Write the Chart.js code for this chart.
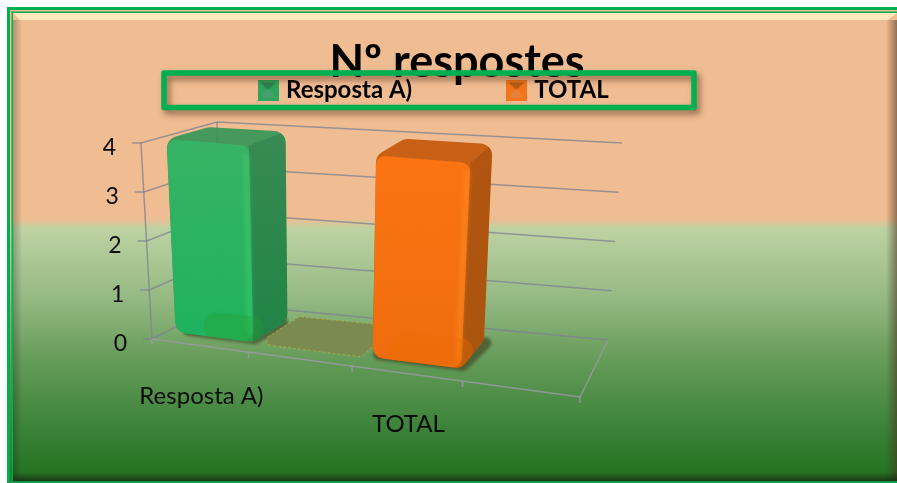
<!DOCTYPE html>
<html><head><meta charset="utf-8">
<style>html,body{margin:0;padding:0;background:#fff}canvas{display:block;filter:blur(0.45px)}</style>
<script src="https://cdn.jsdelivr.net/npm/chart.js@4/dist/chart.umd.min.js"></script>
</head><body><canvas id="c" width="897" height="483"></canvas>
<script>
const categories = ['Resposta A)', '', 'TOTAL', ''];
const seriesRespostaA = [4, 0, null, null];
const seriesTotal = [null, null, 4, null];
const yTicks = [0, 1, 2, 3, 4];
const chartTitle = 'Nº respostes';

const FONT = 'Lato, Carlito, Calibri, sans-serif';
const floorQuad = {fl:[152,339],fr:[580,397],br:[608,340],bl:[222,304]};
const topQuad   = {fl:[141,143],fr:[598,182],br:[622,143],bl:[217,122]};
const mix=(a,b,t)=>[a[0]+(b[0]-a[0])*t,a[1]+(b[1]-a[1])*t];
const warp=u=>u*(.87+.13*u);
function onQuad(q,u,d){const w=warp(u);return mix(mix(q.fl,q.fr,w),mix(q.bl,q.br,w),d);}
function P(u,d,v){return mix(onQuad(floorQuad,u,d),onQuad(topQuad,u,d),v);}

function line(ctx,a,b){ctx.beginPath();ctx.moveTo(a[0],a[1]);ctx.lineTo(b[0],b[1]);ctx.stroke();}
function roundPoly(ctx,pts,r){
  ctx.beginPath();
  const n=pts.length,s=mix(pts[n-1],pts[0],.5);
  ctx.moveTo(s[0],s[1]);
  for(let i=0;i<n;i++){const p=pts[i],q=pts[(i+1)%n];ctx.arcTo(p[0],p[1],q[0],q[1],r);}
  ctx.closePath();
}
const D0=0.22,D1=0.78;
const palette={
  0:{front:['#36B565','#1EB45E'],edge:'rgba(70,205,120,.55)',side:['#378A52','#1E8246'],top:'#3A9657',floor:'rgba(40,160,40,.3)'},
  1:{front:['#FF7512','#F26E0E'],edge:'rgba(255,145,40,.55)',side:['#B0540F','#A8540E'],top:'#C55B0E',floor:'rgba(238,108,4,.35)'}
};
function swatch(c1,c2,c3){
  const s=document.createElement('canvas');s.width=s.height=21;const x=s.getContext('2d');
  x.fillStyle=c1;x.fillRect(0,0,21,21);
  x.fillStyle=c2;x.beginPath();x.moveTo(3,3);x.lineTo(18,3);x.lineTo(10.5,11);x.closePath();x.fill();
  x.fillStyle=c3;x.beginPath();x.moveTo(3,18);x.lineTo(18,18);x.lineTo(10.5,9);x.closePath();x.fill();
  return s;
}
const swatches=[swatch('#2FA45C','#2E7F50','#4A9F70'),swatch('#F3741B','#B85C12','#E2843A')];

const scene={
  id:'scene',
  beforeDraw(chart){
    const ctx=chart.ctx,W=chart.width,H=chart.height;
    ctx.save();
    ctx.fillStyle='#fff';ctx.fillRect(0,0,W,H);
    const g=ctx.createLinearGradient(0,7,0,483);
    const s=y=>(y-7)/476;
    g.addColorStop(0,'#F0BC92');g.addColorStop(s(218),'#F0BC92');g.addColorStop(s(229),'#BDD2A2');
    g.addColorStop(s(300),'#94B882');g.addColorStop(s(360),'#659B59');g.addColorStop(s(430),'#3A8238');g.addColorStop(s(470),'#277424');g.addColorStop(1,'#277424');
    ctx.fillStyle=g;ctx.fillRect(7,7,W-7,H-7);
    ctx.fillStyle='#FFE7BE';ctx.beginPath();ctx.moveTo(13,13);ctx.lineTo(W,13);ctx.lineTo(888,20);ctx.lineTo(20,20);ctx.closePath();ctx.fill();
    let b=ctx.createLinearGradient(886,0,W,0);b.addColorStop(0,'rgba(70,50,30,0)');b.addColorStop(1,'rgba(70,50,30,.55)');
    ctx.fillStyle=b;ctx.fillRect(886,20,W-886,H-20);
    b=ctx.createLinearGradient(0,472,0,481);b.addColorStop(0,'rgba(20,30,15,0)');b.addColorStop(1,'rgba(20,30,15,.7)');
    ctx.fillStyle=b;ctx.fillRect(13,472,W-13,9);
    b=ctx.createLinearGradient(13,0,22,0);b.addColorStop(0,'rgba(20,30,15,.28)');b.addColorStop(1,'rgba(20,30,15,0)');
    ctx.fillStyle=b;ctx.fillRect(13,20,9,461);
    ctx.fillStyle='#00B050';
    ctx.fillRect(7,7,W-7,3);ctx.fillRect(7,7,3,H-7);
    ctx.fillRect(11.5,11.5,W-11.5,1.5);ctx.fillRect(11.5,11.5,1.5,H-11.5);
    ctx.fillStyle='#12994B';ctx.fillRect(7,481,W-7,2);
    ctx.restore();
  },
  afterLayout(chart){
    const area=chart.chartArea,x=chart.scales.x,y=chart.scales.y;
    const tu=p=>(p-area.left)/(area.right-area.left), tv=p=>(area.bottom-p)/(area.bottom-area.top);
    x.getLabelItems().forEach((it,i)=>{
      const p=P(tu(x.getPixelForTick(i)),0,0);
      it.options.translation=[p[0]+2,p[1]+36];
    });
    y.getLabelItems().forEach((it,i)=>{
      const p=P(0,0,tv(y.getPixelForTick(i)));
      it.options.translation=[p[0]-25,p[1]+5];
    });
    x.top=0;x.bottom=chart.height;y.left=0;y.right=chart.width;
    const t=chart.titleBlock;
    t.left=0;t.right=914;t.top=35;t.bottom=t.top+t.height;
    const l=chart.legend,pad=l.options.labels.padding;
    l.left=262-pad;l.right=897;l.top=90-12-pad;l.bottom=400;
  },
  beforeDatasetsDraw(chart){
    const ctx=chart.ctx,area=chart.chartArea,x=chart.scales.x,y=chart.scales.y;
    const tu=p=>(p-area.left)/(area.right-area.left), tv=p=>(area.bottom-p)/(area.bottom-area.top);
    ctx.save();
    ctx.lineWidth=1.5;ctx.strokeStyle='rgba(125,130,145,.75)';
    yTicks.forEach(val=>{
      const v=tv(y.getPixelForValue(val));
      const a=P(0,0,v),b=P(0,1,v),c=P(1,1,v);
      ctx.beginPath();ctx.moveTo(a[0]-9,a[1]);ctx.lineTo(a[0],a[1]);ctx.lineTo(b[0],b[1]);ctx.lineTo(c[0],c[1]);ctx.stroke();
    });
    line(ctx,P(0,0,0),P(0,0,1));line(ctx,P(0,1,0),P(0,1,1));
    ctx.strokeStyle='rgba(150,155,160,.85)';
    line(ctx,P(0,0,0),P(1,0,0));line(ctx,P(1,0,0),P(1,1,0));
    for(let i=0;i<=categories.length;i++){
      const a=P(i/categories.length,0,0);line(ctx,a,[a[0],a[1]+6]);
    }
    chart.data.datasets.forEach((ds,di)=>{
      const c=palette[di];
      chart.getDatasetMeta(di).data.forEach((el,i)=>{
        if(ds.data[i]===null)return;
        const {x:bx,y:by,base,width}=el.getProps(['x','y','base','width'],true);
        const u0=tu(bx-width/2),u1=tu(bx+width/2),v=(base-by)/(area.bottom-area.top);
        if(v<=0){
          const q=[P(u0-.03,D0-.02,0),P(u1+.02,D0-.02,0),P(u1+.02,D1+.1,0),P(u0-.03,D1+.1,0)];
          ctx.save();roundPoly(ctx,q,5);ctx.fillStyle='#7A8B52';ctx.fill();
          ctx.setLineDash([3,2]);ctx.lineWidth=1.2;ctx.strokeStyle='rgba(190,180,70,.55)';ctx.stroke();ctx.restore();
          return;
        }
        const F00=P(u0,D0,0),F10=P(u1,D0,0),F11=P(u1,D0,v),F01=P(u0,D0,v);
        const B10=P(u1,D1,0),B11=P(u1,D1,v),B01=P(u0,D1,v),B00=P(u0,D1,0);
        ctx.save();ctx.filter='blur(1.5px)';ctx.fillStyle='rgba(70,85,45,.8)';
        const e=0.012;
        roundPoly(ctx,[P(u0-e,D0-.04,0),P(u1+e,D0-.04,0),P(u1+e*2.5,D1+.06,0),P(u0-e,D1+.06,0)],6);ctx.fill();ctx.restore();
        const sil=[F00,F10,B10,B11,B01,F01];
        ctx.save();
        ctx.globalAlpha=.94;
        roundPoly(ctx,sil,12);ctx.clip();
        ctx.fillStyle=c.top;ctx.fillRect(0,0,chart.width,chart.height);
        const gs=ctx.createLinearGradient(0,B11[1],0,F10[1]);gs.addColorStop(0,c.side[0]);gs.addColorStop(1,c.side[1]);
        ctx.fillStyle=gs;ctx.beginPath();[F10,B10,B11,F11].forEach((p,k)=>k?ctx.lineTo(p[0],p[1]):ctx.moveTo(p[0],p[1]));ctx.closePath();ctx.fill();
        const gf=ctx.createLinearGradient(0,F01[1],0,F00[1]);gf.addColorStop(0,c.front[0]);gf.addColorStop(1,c.front[1]);
        ctx.fillStyle=gf;roundPoly(ctx,[F00,F10,F11,F01],9);ctx.fill();
        ctx.strokeStyle=c.edge;ctx.lineWidth=5;ctx.filter='blur(2px)';
        ctx.beginPath();ctx.moveTo(F10[0]-3,F10[1]-8);ctx.lineTo(F11[0]-3,F11[1]+8);ctx.stroke();
        ctx.filter='none';
        ctx.fillStyle=c.floor;roundPoly(ctx,[F00,F10,B10,B00],12);ctx.fill();
        ctx.restore();
      });
    });
    ctx.restore();
    return false;
  },
  afterDraw(chart){
    const ctx=chart.ctx;
    ctx.save();
    ctx.shadowColor='rgba(60,30,10,.55)';ctx.shadowBlur=6;ctx.shadowOffsetX=3;ctx.shadowOffsetY=4;
    ctx.strokeStyle='#00B050';ctx.lineWidth=5.5;ctx.lineJoin='round';
    ctx.strokeRect(164,73,530,34.5);
    ctx.restore();
  }
};

new Chart(document.getElementById('c'),{
  type:'bar',
  data:{labels:categories,datasets:[
    {label:'Resposta A)',data:seriesRespostaA,backgroundColor:'#1FB25E',barPercentage:.82,categoryPercentage:1},
    {label:'TOTAL',data:seriesTotal,backgroundColor:'#FA7212',barPercentage:.82,categoryPercentage:1}
  ]},
  options:{
    responsive:false,animation:false,devicePixelRatio:1,
    scales:{
      x:{stacked:true,grid:{display:false},border:{display:false},
         ticks:{autoSkip:false,maxRotation:0,color:'#0b0b0b',font:{family:FONT,size:24}}},
      y:{stacked:true,min:0,max:4,grid:{display:false},border:{display:false},
         afterBuildTicks(s){s.ticks=yTicks.map(value=>({value}));},
         ticks:{color:'#0b0b0b',font:{family:FONT,size:23}}}
    },
    plugins:{
      title:{display:true,text:chartTitle,color:'#000',font:{family:FONT,size:45,weight:'bold'},padding:0},
      legend:{display:true,position:'top',align:'start',maxHeight:40,
        labels:{padding:98,usePointStyle:true,pointStyleWidth:12,color:'#000',font:{family:FONT,size:24,weight:'bold'},
          generateLabels(chart){return chart.data.datasets.map((d,i)=>({text:d.label,datasetIndex:i,pointStyle:swatches[i],fontColor:'#000',lineWidth:0,fillStyle:d.backgroundColor,strokeStyle:d.backgroundColor}));}}},
      tooltip:{enabled:false}
    }
  },
  plugins:[scene]
});
</script></body></html>
